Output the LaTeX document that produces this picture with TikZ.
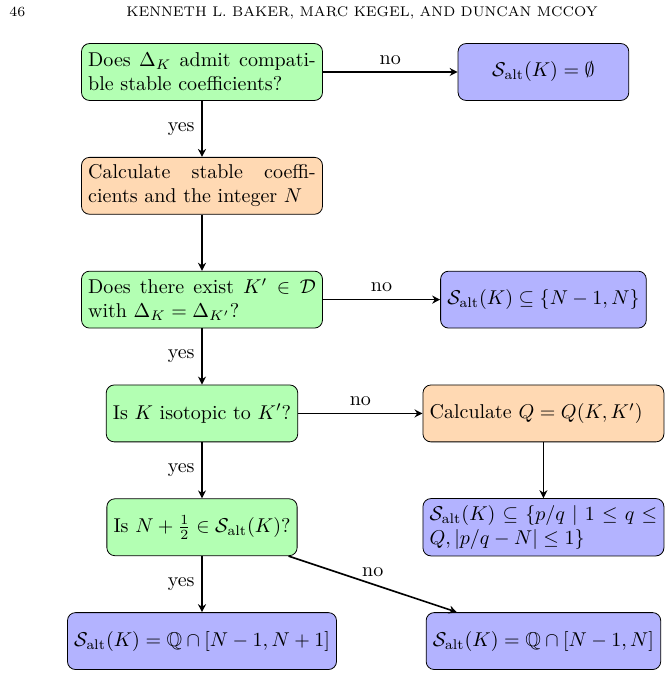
\documentclass[tikz,border=0pt]{standalone}
\usepackage{amsmath,amssymb}
\usetikzlibrary{arrows.meta,positioning}
\definecolor{AskFill}{HTML}{B3FFB3}
\definecolor{CalcFill}{HTML}{FFD9B3}
\definecolor{OutFill}{HTML}{B3B3FF}
\newcommand{\Salt}{\mathcal{S}_{\mathrm{alt}}}

\begin{document}
\begin{tikzpicture}[box/.style={draw,rounded corners=4pt,minimum height=1cm,minimum width=3cm}, ask/.style={box,fill=AskFill}, calcbox/.style={box,fill=CalcFill}, outbox/.style={box,fill=OutFill}, wide/.style={text width=4cm,align=justify}, arrow/.style={-{Stealth[length=4pt,width=4pt]},thick}]
\useasboundingbox (-101pt,36pt) rectangle (233.5pt,-311.5pt);
% running head
\node[anchor=base west,font=\scriptsize,inner sep=0pt] (page) at (-96.5pt,27.5pt) {46};
\node[anchor=base,font=\scriptsize,inner sep=0pt] (head) at (80pt,27.5pt) {KENNETH L. BAKER, MARC KEGEL, AND DUNCAN MCCOY};
% left column
\node[ask,wide] (adm) at (0,0) {Does $\Delta_K$ admit compatible stable coefficients?};
\node[calcbox,wide] (coef) at (0,-2) {Calculate stable coeffi-\linebreak cients and the integer $N$};
\node[ask,wide] (exist) at (0,-4) {Does there exist $K'\in\mathcal{D}$ with $\Delta_K=\Delta_{K'}$?};
\node[ask] (iso) at (0,-6) {Is $K$ isotopic to $K'$?};
\node[ask] (half) at (0,-8) {Is $N+\frac{1}{2}\in\Salt(K)$?};
\node[outbox] (big) at (0,-10) {$\Salt(K)=\mathbb{Q}\cap[N-1,N+1]$};
% right column
\node[outbox] (empty) at (6,0) {$\Salt(K)=\emptyset$};
\node[outbox] (two) at (6,-4) {$\Salt(K)\subseteq\{N-1,N\}$};
\node[calcbox,wide] (calcQ) at (6,-6) {Calculate $Q=Q(K,K')$};
\node[outbox,wide] (pq) at (6,-8) {$\Salt(K)\subseteq\{p/q\mid 1\le q\le Q,|p/q-N|\le 1\}$};
\node[outbox] (small) at (6,-10) {$\Salt(K)=\mathbb{Q}\cap[N-1,N]$};
% connectors
\draw[arrow] (adm)--node[above]{no}(empty);
\draw[arrow] (adm)--node[left]{yes}(coef);
\draw[arrow] (coef)--(exist);
\draw[arrow] (exist)--node[above]{no}(two);
\draw[arrow] (exist)--node[left]{yes}(iso);
\draw[arrow] (iso)--node[above]{no}(calcQ);
\draw[arrow] (calcQ)--(pq);
\draw[arrow] (iso)--node[left]{yes}(half);
\draw[arrow] (half)--node[left]{yes}(big);
\draw[arrow] (half)--node[above]{no}(small);
\end{tikzpicture}
\end{document}
